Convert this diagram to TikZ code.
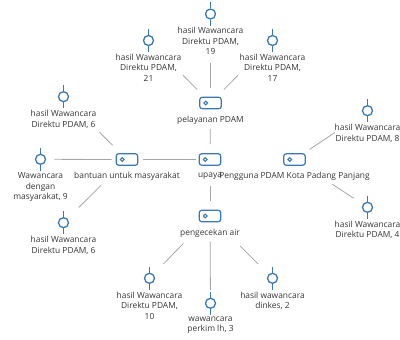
\documentclass[tikz,border=0pt]{standalone}
\usepackage{fontspec}
\setmainfont{Open Sans}
\usetikzlibrary{positioning}
\definecolor{iconblue}{HTML}{3B77B5}
\definecolor{linegray}{HTML}{A6A6A6}
\definecolor{textgray}{HTML}{363636}
\tikzset{
    code/.style={draw=iconblue, line width=1.2pt, rounded corners=2.5pt,
        minimum width=21.5pt, minimum height=11.5pt, inner sep=0pt,
        path picture={\draw[iconblue, line width=1pt]
            ([xshift=6pt]path picture bounding box.west) circle (1.9pt);}},
    memo/.style={circle, draw=iconblue, line width=1.3pt, minimum size=10pt, inner sep=0pt},
    stem/.style={draw=iconblue, line width=1.3pt},
    lbl/.style={align=center, text=textgray, font=\fontsize{8.4}{10.6}\selectfont, inner sep=0pt},
    conn/.style={draw=linegray, line width=0.8pt},
}
\begin{document}
\begin{tikzpicture}[x=1pt, y=-1pt]
    \useasboundingbox (0,0) rectangle (400,340);

    % Kode
    \node[code] (pel) at (210.5,103) {};
    \node[code] (upaya) at (210,159.5) {};
    \node[code] (bantuan) at (127,159.5) {};
    \node[code] (pengguna) at (294.5,159.5) {};
    \node[code] (cek) at (210,216) {};
    \node[lbl, below=6.5pt of pel] (pel-l) {pelayanan PDAM};
    \node[lbl, below=6.5pt of upaya] (upaya-l) {upaya};
    \node[lbl, below=6.5pt of bantuan] (bantuan-l) {bantuan untuk masyarakat};
    \node[lbl, below=6.5pt of pengguna] (pengguna-l) {Pengguna PDAM Kota Padang Panjang};
    \node[lbl, below=6.5pt of cek] (cek-l) {pengecekan air};

    % Dokumen
    \node[memo] (m19) at (210.5,14) {};
    \node[memo] (m21) at (148.5,40.5) {};
    \node[memo] (m17) at (272.5,40.5) {};
    \node[memo] (m6a) at (63.5,96.7) {};
    \node[memo] (m9) at (40.5,159.3) {};
    \node[memo] (m6b) at (63.5,222.7) {};
    \node[memo] (m8) at (367.5,110.7) {};
    \node[memo] (m4) at (367.5,207.3) {};
    \node[memo] (m10) at (149.5,278.3) {};
    \node[memo] (m3) at (210.5,303.3) {};
    \node[memo] (m2) at (272.5,278.3) {};
    \foreach \m in {m19,m21,m17,m6a,m9,m6b,m8,m4,m10,m3,m2} {
        \draw[stem] ([yshift=6pt]\m.north) -- (\m.north);
        \draw[stem] (\m.south) -- ([yshift=-6pt]\m.south);
    }
    \node[lbl, below=7.5pt of m19] (m19-l) {hasil Wawancara\\Direktu PDAM,\\19};
    \node[lbl, below=7.5pt of m21] (m21-l) {hasil Wawancara\\Direktu PDAM,\\21};
    \node[lbl, below=7.5pt of m17] (m17-l) {hasil Wawancara\\Direktu PDAM,\\17};
    \node[lbl, below=7.5pt of m6a] (m6a-l) {hasil Wawancara\\Direktu PDAM, 6};
    \node[lbl, below=7.5pt of m9] (m9-l) {Wawancara\\dengan\\masyarakat, 9};
    \node[lbl, below=7.5pt of m6b] (m6b-l) {hasil Wawancara\\Direktu PDAM, 6};
    \node[lbl, below=7.5pt of m8] (m8-l) {hasil Wawancara\\Direktu PDAM, 8};
    \node[lbl, below=7.5pt of m4] (m4-l) {hasil Wawancara\\Direktu PDAM, 4};
    \node[lbl, below=7.5pt of m10] (m10-l) {hasil Wawancara\\Direktu PDAM,\\10};
    \node[lbl, below=7.5pt of m3] (m3-l) {wawancara\\perkim lh, 3};
    \node[lbl, below=7.5pt of m2] (m2-l) {hasil wawancara\\dinkes, 2};

    % Relasi
    \foreach \a/\b/\s/\e in {pel/m19/15pt/49pt, pel/m21/19pt/49pt, pel/m17/19pt/49pt,
        upaya/pel/15.5pt/26pt, upaya/bantuan/14pt/15.7pt, upaya/cek/26.5pt/15.3pt,
        bantuan/m6a/20.2pt/50.6pt, bantuan/m9/15.3pt/14pt, bantuan/m6b/36.6pt/21.6pt,
        pengguna/m8/18.2pt/39.5pt, pengguna/m4/45.1pt/16.5pt,
        cek/m10/38.2pt/20.1pt, cek/m3/25.7pt/13.3pt, cek/m2/42.7pt/20.1pt} {
        \draw[conn, shorten <=\s, shorten >=\e] (\a.center) -- (\b.center);
    }
\end{tikzpicture}
\end{document}
